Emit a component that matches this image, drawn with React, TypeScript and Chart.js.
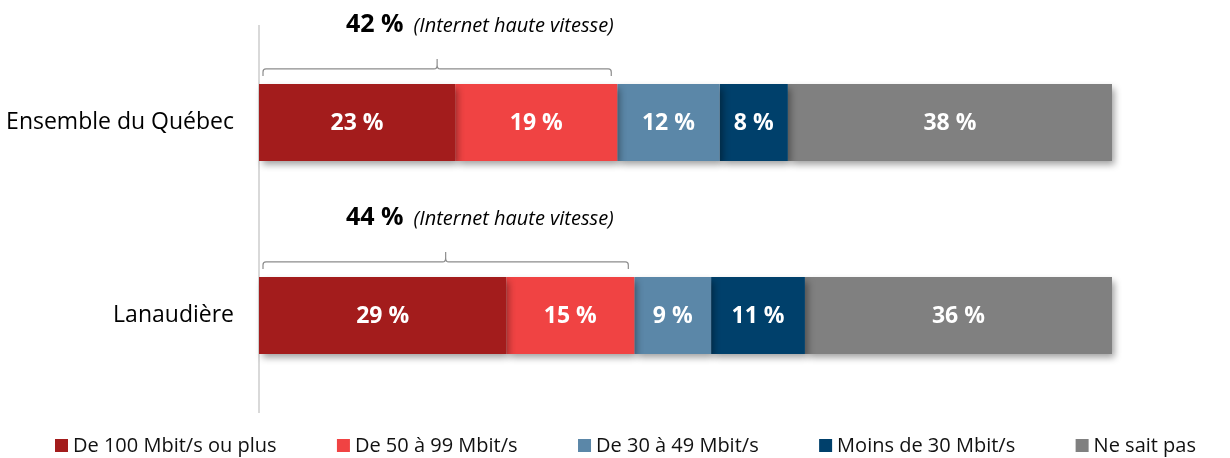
import React, { useEffect, useRef } from "react";
import { Chart, registerables } from "chart.js";

Chart.register(...registerables);

const categories = ["Ensemble du Québec", "Lanaudière"];
const seriesLabels = [
  "De 100 Mbit/s ou plus",
  "De 50 à 99 Mbit/s",
  "De 30 à 49 Mbit/s",
  "Moins de 30 Mbit/s",
  "Ne sait pas",
];
const cent = [23, 29];
const cinquante = [19, 15];
const trente = [12, 9];
const moins30 = [8, 11];
const neSaitPas = [38, 36];
const hauteVitesse = [42, 44];
const hauteVitesseLabel = "(Internet haute vitesse)";
const colors = ["#A31C1C", "#F04343", "#5B87A8", "#00406B", "#808080"];

const FONT = "'Open Sans', 'Noto Sans', sans-serif";

const overlayPlugin = {
  id: "overlay",
  beforeDatasetsDraw(chart: any) {
    const ctx = chart.ctx;
    ctx.save();
    ctx.shadowColor = "rgba(0,0,0,0.38)";
    ctx.shadowBlur = 7;
    ctx.shadowOffsetX = 3;
    ctx.shadowOffsetY = 4;
  },
  afterDatasetsDraw(chart: any) {
    const ctx = chart.ctx;
    ctx.restore();
    const xScale = chart.scales.x;
    // value labels
    ctx.save();
    ctx.fillStyle = "#ffffff";
    ctx.font = `bold 23px ${FONT}`;
    ctx.textAlign = "center";
    ctx.textBaseline = "middle";
    chart.data.datasets.forEach((ds: any, di: number) => {
      const meta = chart.getDatasetMeta(di);
      meta.data.forEach((el: any, i: number) => {
        const v = ds.data[i];
        const cx = (el.x + el.base) / 2;
        ctx.fillText(`${v} %`, cx, el.y + 1);
      });
    });
    ctx.restore();

    // brackets and titles
    const meta0 = chart.getDatasetMeta(0);
    meta0.data.forEach((el: any, i: number) => {
      const top = el.y - el.height / 2;
      const x0 = xScale.getPixelForValue(0) + 4;
      const x1 = xScale.getPixelForValue(hauteVitesse[i]) - 6;
      const mid = (x0 + x1) / 2;
      const yLine = top - 15;
      const yEnd = top - 8;
      const yPeak = top - 25;
      ctx.save();
      ctx.strokeStyle = "#8c8c8c";
      ctx.lineWidth = 1.2;
      ctx.beginPath();
      ctx.moveTo(x0, yEnd);
      ctx.lineTo(x0, yLine + 3);
      ctx.quadraticCurveTo(x0, yLine, x0 + 3, yLine);
      ctx.lineTo(mid - 3, yLine);
      ctx.quadraticCurveTo(mid, yLine, mid, yLine - 4);
      ctx.lineTo(mid, yPeak);
      ctx.moveTo(mid, yLine - 4);
      ctx.quadraticCurveTo(mid, yLine, mid + 3, yLine);
      ctx.lineTo(x1 - 3, yLine);
      ctx.quadraticCurveTo(x1, yLine, x1, yLine + 3);
      ctx.lineTo(x1, yEnd);
      ctx.stroke();

      const tx = xScale.getPixelForValue(0) + 87;
      const ty = top - 52;
      ctx.fillStyle = "#000000";
      ctx.textAlign = "left";
      ctx.textBaseline = "alphabetic";
      ctx.font = `bold 25px ${FONT}`;
      const t1 = `${hauteVitesse[i]} %`;
      ctx.fillText(t1, tx, ty);
      const w1 = ctx.measureText(t1).width;
      ctx.font = `italic 20px ${FONT}`;
      ctx.fillText(hauteVitesseLabel, tx + w1 + 10, ty);
      ctx.restore();
    });
  },
  afterDraw(chart: any) {
    const ctx = chart.ctx;
    ctx.save();
    ctx.font = `20px ${FONT}`;
    ctx.textBaseline = "alphabetic";
    ctx.textAlign = "left";
    const items = chart.data.datasets.map((ds: any) => ({
      text: ds.label,
      color: ds.backgroundColor,
      w: 18 + ctx.measureText(ds.label).width,
    }));
    const startX = 55;
    const endX = 1196;
    const total = items.reduce((s: number, it: any) => s + it.w, 0);
    const gap = (endX - startX - total) / (items.length - 1);
    let x = startX;
    items.forEach((it: any) => {
      ctx.fillStyle = it.color;
      ctx.fillRect(x, 439, 13, 13);
      ctx.fillStyle = "#111111";
      ctx.fillText(it.text, x + 18, 452);
      x += it.w + gap;
    });
    ctx.restore();
  },
};

export default function App() {
  const ref = useRef<HTMLCanvasElement | null>(null);
  useEffect(() => {
    if (!ref.current) return;
    const values = [cent, cinquante, trente, moins30, neSaitPas];
    const chart = new Chart(ref.current, {
      type: "bar",
      data: {
        labels: categories,
        datasets: values.map((d, i) => ({
          label: seriesLabels[i],
          data: d,
          backgroundColor: colors[i],
          borderWidth: 0,
          barPercentage: 0.4,
          categoryPercentage: 1,
          clip: false as any,
        })),
      },
      options: {
        indexAxis: "y",
        responsive: false,
        animation: false,
        devicePixelRatio: 1,
        layout: { padding: { left: 0, right: 118, top: 26, bottom: 46 } },
        plugins: {
          legend: { display: false },
          tooltip: { enabled: false },
        },
        scales: {
          x: { stacked: true, min: 0, max: 100, display: false },
          y: {
            stacked: true,
            grid: { display: false, drawTicks: false },
            border: { display: true, color: "#d9d9d9", width: 2 },
            ticks: {
              color: "#000000",
              padding: 25,
              font: { family: FONT, size: 23 },
            },
            afterFit(scale: any) {
              scale.width = 259;
              scale.paddingTop = 0;
              scale.paddingBottom = 0;
            },
          },
        },
      },
      plugins: [overlayPlugin],
    });
    return () => chart.destroy();
  }, []);
  return (
    <div style={{ position: "fixed", left: 0, top: 0, width: 1230, height: 458, background: "#fff" }}>
      <canvas ref={ref} width={1230} height={458} style={{ width: 1230, height: 458 }} />
    </div>
  );
}
